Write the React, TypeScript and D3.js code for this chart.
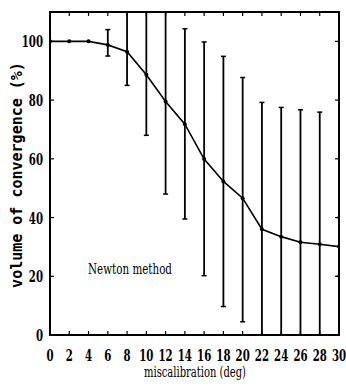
import React from "react";
import * as d3 from "d3";

const miscal = [0, 2, 4, 6, 8, 10, 12, 14, 16, 18, 20, 22, 24, 26, 28, 30];
const volume = [100, 100, 100, 98.8, 96.5, 88.6, 79.5, 71.8, 59.9, 52.3, 46.6, 36.0, 33.5, 31.6, 30.9, 30.1];
const errLow = [100, 100, 100, 95, 85, 68, 48, 39.5, 20.2, 9.7, 4.5, 0, 0, 0, 0, 20];
const errHigh = [100, 100, 100, 104, 110, 110, 110, 104.3, 99.8, 94.9, 87.7, 79.2, 77.5, 76.7, 75.9, 40];
const xTicks = [0, 2, 4, 6, 8, 10, 12, 14, 16, 18, 20, 22, 24, 26, 28, 30];
const yTicks = [0, 20, 40, 60, 80, 100];

export default function App() {
  const W = 346, H = 388;
  const left = 50, right = 339, top = 12, bottom = 335;
  const x = d3.scaleLinear().domain([0, 30]).range([left, right]);
  const y = d3.scaleLinear().domain([0, 110]).range([bottom, top]);
  const line = d3.line<number>().x((_, i) => x(miscal[i])).y((v) => y(v));
  const serif = "DejaVu Serif";
  return (
    <svg width={W} height={H} style={{ position: "absolute", left: 0, top: 0, background: "#fff" }}>
      <rect x={0} y={0} width={W} height={H} fill="#fff" />
      <defs>
        <clipPath id="pa">
          <rect x={left} y={top} width={right - left} height={bottom - top} />
        </clipPath>
      </defs>
      {xTicks.map((t) => (
        <g key={"xt" + t}>
          <line x1={x(t)} x2={x(t)} y1={bottom} y2={bottom - 4} stroke="#000" strokeWidth={1.2} />
          <line x1={x(t)} x2={x(t)} y1={top} y2={top + 4} stroke="#000" strokeWidth={1.2} />
          <text
            transform={`translate(${x(t)},${361}) scale(0.6,1)`}
            textAnchor="middle"
            style={{ fontFamily: serif, fontSize: 17, fontWeight: "bold" }}
            fill="#000"
          >
            {t}
          </text>
        </g>
      ))}
      {yTicks.map((t) => (
        <g key={"yt" + t}>
          <line x1={left} x2={left + 4} y1={y(t)} y2={y(t)} stroke="#000" strokeWidth={1.2} />
          <line x1={right} x2={right - 4} y1={y(t)} y2={y(t)} stroke="#000" strokeWidth={1.2} />
          <text
            transform={`translate(${43},${y(t) + 6}) scale(0.6,1)`}
            textAnchor="end"
            style={{ fontFamily: serif, fontSize: 17, fontWeight: "bold" }}
            fill="#000"
          >
            {t}
          </text>
        </g>
      ))}
      <g clipPath="url(#pa)">
        {miscal.map((m, i) =>
          errHigh[i] - errLow[i] > 0.5 ? (
            <g key={"e" + m}>
              <line x1={x(m)} x2={x(m)} y1={y(errLow[i])} y2={y(errHigh[i])} stroke="#000" strokeWidth={1.8} />
              <line x1={x(m) - 2.5} x2={x(m) + 2.5} y1={y(errLow[i])} y2={y(errLow[i])} stroke="#000" strokeWidth={1.5} />
              <line x1={x(m) - 2.5} x2={x(m) + 2.5} y1={y(errHigh[i])} y2={y(errHigh[i])} stroke="#000" strokeWidth={1.5} />
            </g>
          ) : null
        )}
        <path d={line(volume) || ""} fill="none" stroke="#000" strokeWidth={1.6} />
        {miscal.map((m, i) => (
          <circle key={"p" + m} cx={x(m)} cy={y(volume[i])} r={2} fill="#000" />
        ))}
      </g>
      <rect x={left} y={top} width={right - left} height={bottom - top} fill="none" stroke="#000" strokeWidth={2} />
      <text
        x={88}
        y={274}
        style={{ fontFamily: serif, fontSize: 14 }}
        fill="#000"
        textLength={84}
        lengthAdjust="spacingAndGlyphs"
      >
        Newton method
      </text>
      <text
        x={195}
        y={377}
        textAnchor="middle"
        style={{ fontFamily: serif, fontSize: 14 }}
        fill="#000"
        textLength={102}
        lengthAdjust="spacingAndGlyphs"
      >
        miscalibration (deg)
      </text>
      <text
        transform={`translate(22,${175}) rotate(-90)`}
        textAnchor="middle"
        style={{ fontFamily: "DejaVu Sans Mono", fontSize: 15, fontWeight: "bold" }}
        fill="#000"
      >
        volume of convergence (%)
      </text>
    </svg>
  );
}
